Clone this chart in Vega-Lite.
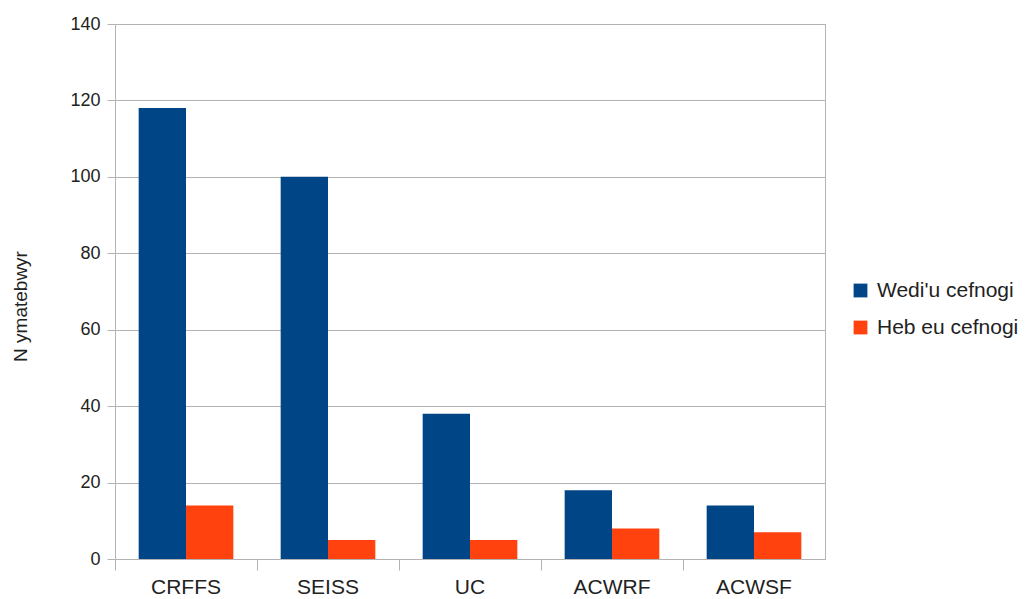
{
  "$schema": "https://vega.github.io/schema/vega-lite/v6.json",
  "autosize": {"type": "none"},
  "width": 710,
  "height": 535,
  "padding": {"left": 115, "top": 24, "right": 209, "bottom": 40},
  "background": "white",
  "config": {
    "font": "Liberation Sans",
    "view": {"stroke": "#b3b3b3", "strokeWidth": 1}
  },
  "data": {
    "values": [
      {"cat": "CRFFS", "series": "Wedi'u cefnogi", "value": 118},
      {"cat": "CRFFS", "series": "Heb eu cefnogi", "value": 14},
      {"cat": "SEISS", "series": "Wedi'u cefnogi", "value": 100},
      {"cat": "SEISS", "series": "Heb eu cefnogi", "value": 5},
      {"cat": "UC", "series": "Wedi'u cefnogi", "value": 38},
      {"cat": "UC", "series": "Heb eu cefnogi", "value": 5},
      {"cat": "ACWRF", "series": "Wedi'u cefnogi", "value": 18},
      {"cat": "ACWRF", "series": "Heb eu cefnogi", "value": 8},
      {"cat": "ACWSF", "series": "Wedi'u cefnogi", "value": 14},
      {"cat": "ACWSF", "series": "Heb eu cefnogi", "value": 7}
    ]
  },
  "mark": {"type": "bar"},
  "encoding": {
    "x": {
      "field": "cat",
      "type": "nominal",
      "sort": ["CRFFS", "SEISS", "UC", "ACWRF", "ACWSF"],
      "scale": {"paddingInner": 0, "paddingOuter": 0},
      "axis": {
        "title": null,
        "labelAngle": 0,
        "labelFontSize": 21,
        "labelColor": "#222222",
        "labelPadding": 6,
        "domain": false,
        "bandPosition": 0,
        "ticks": true,
        "tickSize": 11,
        "tickColor": "#b3b3b3",
        "grid": false
      }
    },
    "xOffset": {
      "field": "series",
      "type": "nominal",
      "sort": ["Wedi'u cefnogi", "Heb eu cefnogi"],
      "scale": {"paddingInner": 0, "paddingOuter": 0.5}
    },
    "y": {
      "field": "value",
      "type": "quantitative",
      "scale": {"domain": [0, 140], "nice": false},
      "axis": {
        "title": "N ymatebwyr",
        "titleFontSize": 19,
        "titleFontWeight": "normal",
        "titleColor": "#222222",
        "titleX": -95,
        "titleY": 282,
        "titleAngle": -90,
        "titleAlign": "center",
        "titleBaseline": "middle",
        "values": [0, 20, 40, 60, 80, 100, 120, 140],
        "labelFontSize": 18,
        "labelColor": "#222222",
        "labelPadding": 7,
        "tickSize": 8,
        "tickColor": "#b3b3b3",
        "domain": false,
        "grid": true,
        "gridColor": "#b3b3b3"
      }
    },
    "color": {
      "field": "series",
      "type": "nominal",
      "sort": ["Wedi'u cefnogi", "Heb eu cefnogi"],
      "scale": {"domain": ["Wedi'u cefnogi", "Heb eu cefnogi"], "range": ["#004586", "#ff420e"]},
      "legend": {
        "title": null,
        "orient": "none",
        "legendX": 735,
        "legendY": 256,
        "symbolType": "square",
        "symbolSize": 190,
        "symbolStrokeWidth": 0,
        "labelFontSize": 21,
        "labelColor": "#222222",
        "rowPadding": 15,
        "labelOffset": 6
      }
    }
  }
}
